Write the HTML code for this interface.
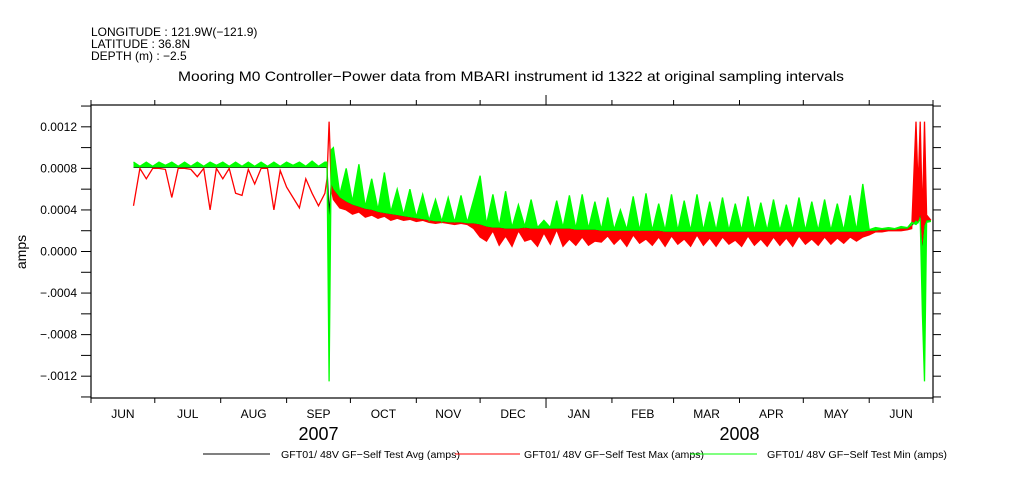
<!DOCTYPE html>
<html><head><meta charset="utf-8"><style>
html,body{margin:0;padding:0;background:#fff}
svg{display:block}
text{font-family:"Liberation Sans",sans-serif;fill:#000}
</style></head><body>
<svg id="chart" width="1009" height="504" xmlns="http://www.w3.org/2000/svg">
<g font-size="12">
<text x="91" y="36">LONGITUDE : 121.9W(−121.9)</text>
<text x="91" y="48">LATITUDE : 36.8N</text>
<text x="91" y="60">DEPTH (m) : −2.5</text>
</g>
<text x="511" y="81" font-size="14" text-anchor="middle" textLength="666" lengthAdjust="spacingAndGlyphs">Mooring M0 Controller−Power data from MBARI instrument id 1322 at original sampling intervals</text>
<text transform="translate(26,252) rotate(-90)" font-size="14" text-anchor="middle">amps</text>
<g id="series"></g>
<g id="axes"></g>
<g font-size="10.5">
<line x1="203" y1="454" x2="270" y2="454" stroke="#000"/>
<text x="281" y="458" textLength="179" lengthAdjust="spacingAndGlyphs">GFT01/ 48V GF−Self Test Avg (amps)</text>
<line x1="455" y1="454" x2="520" y2="454" stroke="#f00"/>
<text x="524" y="458" textLength="180" lengthAdjust="spacingAndGlyphs">GFT01/ 48V GF−Self Test Max (amps)</text>
<line x1="690" y1="454" x2="757" y2="454" stroke="#0f0"/>
<text x="767" y="458" textLength="180" lengthAdjust="spacingAndGlyphs">GFT01/ 48V GF−Self Test Min (amps)</text>
</g>
</svg>
<script>
// days since 2007-06-01
const days = [20,23,26,29,32,35,38,41,44,47,
50,53,56,59,62,65,68,71,74,77,
80,83,86,89,92,95,98,101,104,107,
110,111,112,113,114,117,120,123,126,129,
132,135,138,141,144,147,150,153,156,159,
162,165,168,171,174,177,180,183,186,189,
192,195,198,201,204,207,210,213,216,219,
222,225,228,231,234,237,240,243,246,249,
252,255,258,261,264,267,270,273,276,279,
282,285,288,291,294,297,300,303,306,309,
312,315,318,321,324,327,330,333,336,339,
342,345,348,351,354,357,360,363,366,369,
372,375,378,381,384,386,388,389,390,391,
392,393,395];
// values in units of 1e-4 amps
const avgVals = [8.1,8.1,8.1,8.1,8.1,8.1,8.1,8.1,8.1,8.1,
8.1,8.1,8.1,8.1,8.1,8.1,8.1,8.1,8.1,8.1,
8.1,8.1,8.1,8.1,8.1,8.1,8.1,8.1,8.1,8.1,
8.1,8.1,3.5,6.5,6.0,5.2,4.8,4.5,4.3,4.1,
4.0,3.8,3.7,3.6,3.5,3.4,3.3,3.2,3.1,3.0,
2.9,2.9,2.8,2.8,2.8,2.7,2.7,2.6,2.4,2.3,
2.3,2.2,2.2,2.2,2.3,2.2,2.2,2.2,2.2,2.2,
2.2,2.2,2.1,2.1,2.1,2.1,2.0,2.0,2.0,2.0,
2.0,2.0,2.0,2.0,2.0,2.0,1.9,1.9,1.9,1.9,
1.9,1.9,1.9,1.9,1.9,1.9,1.9,1.9,1.9,1.9,
1.9,1.9,1.9,1.9,1.9,1.9,1.9,1.9,1.9,1.9,
1.9,1.9,1.9,1.9,1.9,1.9,1.9,1.9,2.0,2.0,
2.1,2.1,2.1,2.2,2.2,2.5,3.0,2.8,3.5,0.5,
2.5,3.0,3.0];
const maxVals = [4.4,8.0,7.0,8.0,8.0,7.9,5.2,8.0,8.0,7.9,
7.2,8.0,4.0,8.0,7.0,8.0,5.6,5.4,7.9,6.5,
8.0,8.0,4.0,7.8,6.2,5.2,4.2,7.0,5.6,4.4,
5.6,7.0,12.5,6.0,5.0,4.2,4.0,3.6,3.8,3.3,
3.5,3.2,3.4,3.0,3.2,3.0,3.1,2.9,3.0,2.8,
2.7,2.8,2.7,2.6,2.7,2.6,2.2,1.4,1.0,2.0,
0.6,1.5,0.5,2.0,1.0,1.2,0.5,1.8,0.7,2.1,
0.5,1.2,0.6,1.4,0.6,1.0,0.9,1.5,0.7,1.3,
0.5,1.6,0.8,1.2,0.6,1.4,0.5,1.5,0.7,1.2,
0.5,1.6,0.6,1.3,0.5,1.4,0.7,1.1,0.5,1.5,
0.6,1.2,0.5,1.4,0.6,1.3,0.5,1.5,0.7,1.2,
0.6,1.4,0.7,1.3,0.8,1.4,1.0,1.4,1.6,1.9,
1.9,2.0,2.0,2.0,2.1,2.2,12.5,6.0,12.5,3.2,
12.5,3.5,3.0];
const minVals = [8.6,8.2,8.6,8.2,8.6,8.3,8.6,8.2,8.6,8.2,
8.6,8.2,8.6,8.3,8.6,8.2,8.6,8.2,8.6,8.2,
8.6,8.2,8.6,8.2,8.6,8.3,8.6,8.2,8.7,8.2,
8.6,8.6,-12.5,9.8,10.0,5.5,8.0,4.8,8.4,4.3,
7.0,4.0,7.6,3.8,6.0,3.5,6.0,3.3,5.5,3.0,
5.0,2.9,5.2,2.8,5.4,2.8,5.0,7.3,2.6,5.5,
2.4,5.8,2.3,4.5,2.4,5.0,2.3,3.0,2.3,4.9,
2.3,5.4,2.2,5.5,2.2,4.8,2.1,5.2,2.1,4.0,
2.1,5.3,2.0,5.6,2.0,4.6,2.0,5.5,2.0,4.9,
2.0,5.5,2.0,4.8,2.0,5.2,2.0,4.6,2.0,5.3,
2.0,4.7,2.0,5.0,2.0,4.5,2.0,5.2,2.0,4.8,
2.0,5.0,2.0,4.6,2.0,5.4,2.0,6.5,2.1,2.3,
2.2,2.3,2.2,2.4,2.3,2.8,2.6,2.8,3.2,-6.0,
-12.5,2.8,2.9];
const yTickVals = [0.0012,0.0008,0.0004,0.0,-0.0004,-0.0008,-0.0012];
const yTickLabels = ["0.0012","0.0008","0.0004","0.0000","−.0004","−.0008","−.0012"];
const monthLabels = ["JUN","JUL","AUG","SEP","OCT","NOV","DEC","JAN","FEB","MAR","APR","MAY","JUN"];
const monthStarts = [0,30,61,92,122,153,183,214,245,274,305,335,366,396];
const yearLabels = ["2007","2008"];
const yearSpans = [[0,214],[214,396]];

const L=91,R=933,T=105,B=398,D0=0,D1=396,V0=-0.00141,V1=0.00141;
const X=d=>L+(d-D0)/(D1-D0)*(R-L);
const Y=v=>T+(V1-v)/(V1-V0)*(B-T);
const NS="http://www.w3.org/2000/svg";
function mk(tag,attrs,parent){const e=document.createElementNS(NS,tag);for(const k in attrs)e.setAttribute(k,attrs[k]);parent.appendChild(e);return e;}
const sg=document.getElementById('series');
const N=Math.min(days.length,avgVals.length,maxVals.length,minVals.length);
function pts(vals,from){const a=[];for(let i=from||0;i<N;i++)a.push(X(days[i]).toFixed(1)+','+Y(vals[i]*1e-4).toFixed(1));return a;}
function band(vals,color,name,from){
  const p=pts(vals,from).concat(pts(avgVals,from).reverse()).join(' ');
  const g=mk('polygon',{points:p,fill:color,stroke:'none'},sg);
  
  
}
function series(vals,color,name,w){
  const p=mk('polyline',{points:pts(vals).join(' '),fill:'none',stroke:color,'stroke-width':w},sg);
  
  
}
let bandStart=0; while(bandStart<N && days[bandStart]<113) bandStart++;
series(avgVals,'#000','series-avg',1.2);
band(maxVals,'#f00','series-max-band',bandStart);
series(maxVals,'#f00','series-max',1.3);
band(minVals,'#0f0','series-min-band',0);
series(minVals,'#0f0','series-min',1.3);

const ag=document.getElementById('axes');
const frame=mk('rect',{x:L,y:T,width:R-L,height:B-T,fill:'none',stroke:'#000','stroke-width':1.2},ag);


for(let k=-7;k<=7;k++){
  const v=k*0.0002,y=Y(v);
  mk('line',{x1:L-10,y1:y,x2:L,y2:y,stroke:'#000'},ag);
  mk('line',{x1:R,y1:y,x2:R+8,y2:y,stroke:'#000'},ag);
}
yTickVals.forEach((v,i)=>{
  const t=mk('text',{x:L-14,y:Y(v)+4,'font-size':12,'text-anchor':'end'},ag);
  t.textContent=yTickLabels[i];
  
  
});
monthStarts.forEach((d,i)=>{
  const x=X(d);const yr=(d===214);
  mk('line',{x1:x,y1:B,x2:x,y2:B+(yr?10:5),stroke:'#000'},ag);
  mk('line',{x1:x,y1:T,x2:x,y2:T-(yr?10:5),stroke:'#000'},ag);
  if(i<monthLabels.length){
    const t=mk('text',{x:(X(d)+X(monthStarts[i+1]))/2,y:418,'font-size':12,'text-anchor':'middle'},ag);
    t.textContent=monthLabels[i];
    
    
  }
});
yearLabels.forEach((lab,i)=>{
  const t=mk('text',{x:(X(yearSpans[i][0])+X(yearSpans[i][1]))/2,y:440,'font-size':18,'text-anchor':'middle'},ag);
  t.textContent=lab;
  
  
});
</script>
</body></html>
